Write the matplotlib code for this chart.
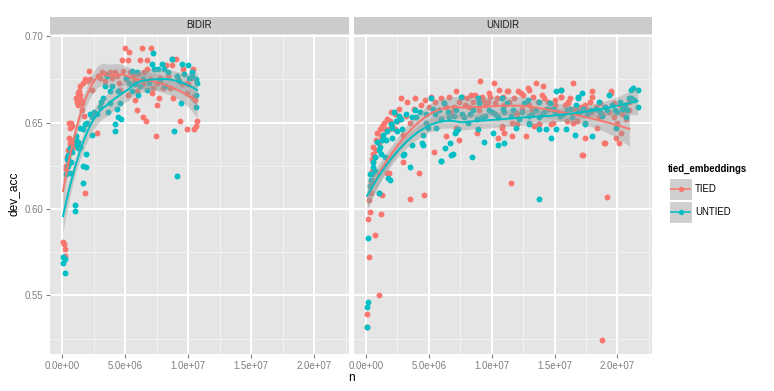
#! /usr/bin/env python3

import matplotlib.pyplot as plt
from matplotlib.lines import Line2D
from matplotlib.patches import Rectangle
import numpy as np

# ---- data (n in millions, dev_acc) ----
panels = ['BIDIR', 'UNIDIR']
groups = ['TIED', 'UNTIED']
colors = {'TIED': '#F8766D', 'UNTIED': '#00BFC4'}

bidir_tied_n = [0.08, 0.15, 0.24, 0.24, 0.3, 0.35, 0.4, 0.45, 0.5, 0.55, 0.6, 0.65, 0.7, 0.75, 0.8,
                0.85, 0.9, 0.95, 0.55, 0.65, 0.7, 0.8, 1.1, 1.2, 1.3, 1.25, 1.35, 1.4, 1.45, 1.5, 1.6,
                1.6, 1.7, 1.75, 1.8, 1.85, 2.05, 2.15, 2.2, 2.4, 2.8, 2.85, 3.2, 3.5, 3.8, 4.2, 4.5,
                4.6, 4.75, 4.85, 5.0, 5.1, 5.25, 5.25, 5.3, 5.4, 5.8, 5.8, 5.95, 5.95, 6.2, 6.35, 6.45,
                6.45, 6.5, 6.65, 6.75, 6.75, 7.05, 7.15, 7.2, 7.45, 7.55, 7.55, 7.7, 8.0, 8.25, 8.6,
                8.7, 8.75, 8.8, 9.05, 9.35, 9.5, 9.6, 9.9, 9.9, 9.9, 10.4, 10.4, 10.5, 10.55, 10.65,
                10.7, 3.0, 3.4, 4.0, 4.4, 5.6, 6.0, 7.0, 7.8, 8.4, 9.2, 10.0, 10.2]
bidir_tied_acc = [0.581, 0.580, 0.577, 0.573, 0.625, 0.623, 0.630, 0.628, 0.634, 0.641, 0.636, 0.638,
                  0.640, 0.637, 0.639, 0.636, 0.638, 0.640, 0.650, 0.647, 0.650, 0.648, 0.664, 0.662,
                  0.660, 0.667, 0.668, 0.666, 0.671, 0.663, 0.657, 0.661, 0.673, 0.654, 0.609, 0.675,
                  0.674, 0.680, 0.675, 0.669, 0.644, 0.677, 0.679, 0.678, 0.679, 0.679, 0.673, 0.669,
                  0.686, 0.680, 0.693, 0.675, 0.666, 0.686, 0.691, 0.679, 0.674, 0.663, 0.668, 0.657,
                  0.686, 0.693, 0.672, 0.653, 0.679, 0.651, 0.681, 0.686, 0.693, 0.667, 0.670, 0.642,
                  0.673, 0.660, 0.664, 0.670, 0.683, 0.670, 0.687, 0.683, 0.664, 0.687, 0.651, 0.672,
                  0.681, 0.673, 0.667, 0.646, 0.681, 0.665, 0.646, 0.663, 0.648, 0.651, 0.676, 0.674,
                  0.676, 0.677, 0.677, 0.678, 0.675, 0.676, 0.677, 0.675, 0.672, 0.676]

bidir_untied_n = [0.08, 0.08, 0.24, 0.24, 0.3, 0.4, 0.5, 0.65, 0.65, 0.7, 1.0, 1.0, 1.1, 1.15, 1.2,
                  1.25, 1.3, 1.4, 1.45, 1.65, 1.65, 1.65, 1.8, 1.9, 1.9, 2.0, 2.2, 2.4, 2.4, 2.55, 2.8,
                  3.0, 3.1, 3.25, 3.4, 3.55, 3.65, 3.8, 3.8, 3.95, 4.2, 4.2, 4.35, 4.45, 4.45, 4.6, 4.7,
                  5.1, 5.55, 5.55, 5.95, 6.05, 6.2, 6.75, 6.9, 7.15, 7.2, 7.3, 7.6, 7.95, 8.1, 8.4, 8.7,
                  8.9, 9.1, 9.1, 9.45, 9.5, 9.7, 10.0, 10.1, 10.3, 10.3, 10.6, 10.65, 10.65, 10.7, 5.3,
                  5.8, 6.4, 7.8, 8.2, 9.3, 0.45, 0.55, 0.8]
bidir_untied_acc = [0.572, 0.569, 0.571, 0.563, 0.620, 0.629, 0.631, 0.621, 0.635, 0.627, 0.602, 0.599,
                    0.642, 0.640, 0.637, 0.635, 0.639, 0.636, 0.647, 0.646, 0.625, 0.615, 0.649, 0.632,
                    0.624, 0.650, 0.655, 0.653, 0.643, 0.656, 0.655, 0.659, 0.662, 0.664, 0.671, 0.677,
                    0.656, 0.668, 0.661, 0.671, 0.649, 0.645, 0.658, 0.668, 0.653, 0.661, 0.652, 0.676,
                    0.680, 0.668, 0.679, 0.666, 0.671, 0.669, 0.673, 0.684, 0.690, 0.681, 0.681, 0.684,
                    0.681, 0.679, 0.687, 0.645, 0.677, 0.619, 0.661, 0.684, 0.678, 0.683, 0.676, 0.679,
                    0.677, 0.675, 0.666, 0.659, 0.673, 0.673, 0.672, 0.675, 0.674, 0.671, 0.674, 0.625,
                    0.628, 0.633]

unidir_tied_n = [0.1, 0.1, 0.15, 0.25, 0.25, 0.3, 0.4, 0.7, 1.0, 1.0, 1.2, 1.25, 3.5, 4.6, 19.15, 18.75,
                 11.5, 0.4, 0.5, 0.55, 0.55, 0.6, 0.7, 0.8, 0.9, 1.1, 1.2, 1.3, 1.5, 1.65, 1.65, 1.8,
                 1.8, 2.0, 2.1, 2.3, 2.5, 2.8, 2.6, 2.95, 2.95, 3.2, 3.5, 3.8, 4.2, 4.4, 5.0, 5.4, 5.8,
                 6.2, 6.35, 6.6, 7.0, 7.2, 7.2, 7.4, 7.6, 8.0, 8.35, 8.65, 8.8, 8.9, 9.05, 9.2, 9.5, 9.9,
                 10.15, 10.25, 10.5, 10.55, 10.8, 10.8, 11.0, 11.2, 11.3, 11.6, 11.65, 11.85, 12.0, 12.1,
                 12.4, 12.5, 12.7, 12.85, 12.95, 13.2, 13.4, 13.5, 13.75, 13.8, 14.0, 14.05, 14.3, 14.75,
                 14.85, 15.0, 15.5, 15.5, 15.55, 16.0, 16.05, 16.05, 16.45, 16.45, 16.8, 17.1, 17.2, 17.3,
                 17.45, 17.6, 18.0, 18.0, 18.35, 18.5, 18.6, 18.9, 19.0, 19.45, 19.5, 19.75, 19.85, 19.9,
                 20.0, 20.15, 20.3, 20.5, 20.9, 20.95, 5.5, 6.8, 8.2, 9.0, 9.7, 11.0, 12.0, 13.0, 14.5,
                 15.2, 16.5, 17.8, 19.0, 20.2,
                 3.3, 3.9, 4.7, 5.2, 6.0, 6.4, 7.4, 7.9, 8.5, 9.3, 9.8, 10.4, 10.9, 11.4, 11.8, 12.3,
                 12.8, 13.3, 13.7, 14.2, 14.6, 15.0, 15.8, 16.2, 16.9, 17.4, 17.9, 18.3, 18.8, 19.3,
                 19.7, 20.4, 20.7, 1.0, 1.4, 1.9, 2.3, 2.7, 0.45, 0.8]
unidir_tied_acc = [0.539, 0.532, 0.594, 0.572, 0.605, 0.598, 0.609, 0.585, 0.550, 0.609, 0.597, 0.608,
                   0.606, 0.608, 0.607, 0.524, 0.615, 0.616, 0.622, 0.636, 0.627, 0.632, 0.630, 0.640,
                   0.644, 0.646, 0.642, 0.648, 0.646, 0.652, 0.621, 0.621, 0.646, 0.656, 0.648, 0.646,
                   0.651, 0.664, 0.658, 0.643, 0.627, 0.654, 0.650, 0.658, 0.621, 0.660, 0.659, 0.633,
                   0.657, 0.661, 0.642, 0.665, 0.659, 0.668, 0.647, 0.640, 0.665, 0.664, 0.666, 0.666,
                   0.644, 0.664, 0.674, 0.665, 0.660, 0.665, 0.673, 0.661, 0.641, 0.669, 0.648, 0.647,
                   0.644, 0.668, 0.668, 0.642, 0.650, 0.656, 0.649, 0.668, 0.658, 0.666, 0.642, 0.670,
                   0.669, 0.657, 0.648, 0.673, 0.649, 0.649, 0.666, 0.671, 0.658, 0.649, 0.650, 0.660,
                   0.669, 0.665, 0.665, 0.651, 0.662, 0.661, 0.673, 0.650, 0.651, 0.659, 0.631, 0.631,
                   0.641, 0.657, 0.665, 0.668, 0.647, 0.653, 0.661, 0.638, 0.638, 0.667, 0.668, 0.661,
                   0.641, 0.647, 0.650, 0.638, 0.644, 0.658, 0.662, 0.657, 0.662, 0.656, 0.659, 0.657,
                   0.662, 0.660, 0.655, 0.660, 0.662, 0.656, 0.658, 0.662, 0.659, 0.660,
                   0.662, 0.664, 0.663, 0.665, 0.664, 0.659, 0.662, 0.660, 0.662, 0.663, 0.667, 0.664,
                   0.665, 0.662, 0.664, 0.667, 0.661, 0.665, 0.662, 0.664, 0.658, 0.663, 0.660, 0.664,
                   0.657, 0.660, 0.656, 0.659, 0.655, 0.656, 0.653, 0.655, 0.652, 0.638, 0.650, 0.651,
                   0.655, 0.652, 0.629, 0.634]

unidir_untied_n = [0.1, 0.1, 0.15, 0.15, 1.0, 13.75, 0.3, 0.4, 0.5, 0.6, 0.7, 0.9, 1.1, 1.2, 1.35, 1.5,
                   1.6, 1.75, 1.9, 2.05, 2.1, 2.5, 2.9, 2.95, 2.2, 2.6, 3.0, 3.5, 3.7, 3.7, 4.0, 4.45,
                   4.5, 4.5, 4.75, 4.9, 5.15, 5.6, 5.95, 6.0, 6.25, 6.65, 6.8, 6.9, 7.05, 7.15, 7.3, 7.55,
                   8.1, 8.4, 8.9, 8.9, 9.35, 10.1, 10.5, 10.8, 11.0, 11.9, 12.95, 13.0, 13.75, 13.8, 14.3,
                   14.75, 15.1, 15.15, 15.5, 15.9, 16.65, 16.85, 16.85, 17.15, 17.4, 17.45, 17.95, 19.35,
                   19.9, 20.65, 20.9, 21.05, 21.1, 21.2, 21.6, 21.6, 5.5, 6.0, 6.5, 7.0, 7.8, 8.3, 8.8,
                   9.5, 10.0, 10.5, 11.2, 11.5, 12.2, 12.6, 13.2, 13.8, 14.2, 14.6, 15.4, 16.0, 16.4, 17.0,
                   17.6, 18.3, 18.8, 19.2, 19.6, 20.0, 20.4, 20.8, 6.2, 9.0, 10.9, 12.9, 14.9, 16.7, 18.5,
                   20.2,
                   0.35, 0.55, 0.75, 1.0, 1.3, 1.7, 2.0, 2.4, 2.8, 3.2, 3.9, 4.3, 4.8, 5.3, 5.8, 6.6,
                   7.2, 7.6, 8.5, 9.2, 9.8, 10.3, 11.0, 11.7, 12.4, 13.0, 13.5, 14.0, 14.4, 15.0, 15.7,
                   16.2, 16.9, 17.3, 17.9, 18.6, 19.0, 19.8, 20.6, 21.3]
unidir_untied_acc = [0.532, 0.543, 0.546, 0.583, 0.609, 0.606, 0.613, 0.617, 0.620, 0.624, 0.622, 0.639,
                     0.636, 0.632, 0.643, 0.630, 0.640, 0.618, 0.617, 0.641, 0.647, 0.645, 0.646, 0.631,
                     0.656, 0.654, 0.632, 0.624, 0.653, 0.637, 0.653, 0.638, 0.643, 0.637, 0.650, 0.647,
                     0.664, 0.647, 0.628, 0.628, 0.635, 0.638, 0.631, 0.632, 0.644, 0.645, 0.646, 0.665,
                     0.650, 0.630, 0.646, 0.664, 0.639, 0.644, 0.637, 0.664, 0.638, 0.647, 0.650, 0.649,
                     0.662, 0.646, 0.646, 0.641, 0.668, 0.646, 0.669, 0.646, 0.643, 0.665, 0.664, 0.667,
                     0.649, 0.650, 0.642, 0.666, 0.647, 0.653, 0.664, 0.664, 0.669, 0.670, 0.669, 0.659,
                     0.655, 0.652, 0.656, 0.654, 0.653, 0.655, 0.652, 0.654, 0.656, 0.653, 0.661, 0.654,
                     0.652, 0.661, 0.655, 0.653, 0.656, 0.661, 0.654, 0.657, 0.653, 0.656, 0.655, 0.658,
                     0.654, 0.657, 0.660, 0.656, 0.658, 0.657, 0.661, 0.661, 0.658, 0.663, 0.658, 0.660,
                     0.662, 0.662,
                     0.620, 0.627, 0.630, 0.634, 0.640, 0.645, 0.649, 0.651, 0.652, 0.655, 0.657, 0.656,
                     0.655, 0.658, 0.657, 0.653, 0.657, 0.655, 0.657, 0.653, 0.657, 0.655, 0.656, 0.657,
                     0.656, 0.654, 0.657, 0.655, 0.658, 0.656, 0.655, 0.658, 0.656, 0.658, 0.657, 0.656,
                     0.659, 0.657, 0.660, 0.663]

data = {
    ('BIDIR', 'TIED'): (bidir_tied_n, bidir_tied_acc),
    ('BIDIR', 'UNTIED'): (bidir_untied_n, bidir_untied_acc),
    ('UNIDIR', 'TIED'): (unidir_tied_n, unidir_tied_acc),
    ('UNIDIR', 'UNTIED'): (unidir_untied_n, unidir_untied_acc),
}

xticks = [0, 5e6, 1e7, 1.5e7, 2e7]
xticklabels = ['0.0e+00', '5.0e+06', '1.0e+07', '1.5e+07', '2.0e+07']
yticks = [0.55, 0.60, 0.65, 0.70]
yticklabels = ['0.55', '0.60', '0.65', '0.70']


def loess(x, y, span=0.75, ngrid=80):
    # local quadratic fit with tricube weights, like R's loess default
    n = len(x)
    q = int(np.floor(n * span))

    def hat_row(x0):
        d = np.abs(x - x0)
        h = np.sort(d)[q - 1]
        w = np.clip(1 - (d / h) ** 3, 0, None) ** 3
        X = np.column_stack([np.ones(n), x - x0, (x - x0) ** 2])
        XtW = X.T * w
        return np.linalg.solve(XtW @ X, XtW)[0]

    L = np.array([hat_row(xi) for xi in x])
    resid = y - L @ y
    M = np.eye(n) - L
    delta1 = np.trace(M.T @ M)
    sigma = np.sqrt(np.sum(resid ** 2) / delta1)
    xs = np.linspace(x.min(), x.max(), ngrid)
    G = np.array([hat_row(x0) for x0 in xs])
    fit = G @ y
    se = sigma * np.sqrt(np.sum(G ** 2, axis=1))
    return xs, fit, se


def mkplot():
    W, H = 774, 391
    fig = plt.figure(figsize=(W / 100, H / 100), dpi=100)
    plt.rcParams['font.family'] = ['Liberation Sans', 'DejaVu Sans']

    def fx(px):
        return px / W

    def fy(py):
        return 1 - py / H

    boxes = {'BIDIR': (50, 349), 'UNIDIR': (354, 652)}
    top, bottom = 34, 354
    for p in panels:
        l, r = boxes[p]
        ax = fig.add_axes([fx(l), fy(bottom), (r - l) / W, (bottom - top) / H])
        ax.set_facecolor('#E5E5E5')
        for s in ax.spines.values():
            s.set_visible(False)
        ax.set_xlim(-0.95e6, 22.75e6)
        ax.set_ylim(0.5161, 0.7012)
        ax.set_xticks(xticks)
        ax.set_yticks(yticks)
        ax.set_xticks([2.5e6, 7.5e6, 1.25e7, 1.75e7, 2.25e7], minor=True)
        ax.set_yticks([0.525, 0.575, 0.625, 0.675], minor=True)
        ax.grid(which='major', color='white', lw=1.4)
        ax.grid(which='minor', color='#F2F2F2', lw=0.7)
        ax.set_axisbelow(True)
        ax.tick_params(which='minor', length=0)
        ax.tick_params(which='major', length=3, width=0.8, color='#7F7F7F',
                       labelcolor='#7F7F7F', labelsize=6.9, pad=2)
        ax.set_xticklabels(xticklabels)
        if p == 'BIDIR':
            ax.set_yticklabels(yticklabels)
        else:
            ax.tick_params(axis='y', length=0, labelleft=False)

        # strip
        sax = fig.add_axes([fx(l), fy(top), (r - l) / W, 17 / H])
        sax.set_facecolor('#CCCCCC')
        sax.set_xticks([])
        sax.set_yticks([])
        for s in sax.spines.values():
            s.set_visible(False)
        sax.text(0.5, 0.5, p, ha='center', va='center', fontsize=6.9, color='#1A1A1A')

        # points
        for g in groups:
            n, acc = data[(p, g)]
            ax.scatter(np.array(n) * 1e6, acc, s=18, color=colors[g], lw=0, zorder=3)

        # smoothers
        for g in groups:
            n, acc = data[(p, g)]
            xs, fit, se = loess(np.array(n), np.array(acc))
            ax.fill_between(xs * 1e6, fit - 1.97 * se, fit + 1.97 * se, color='#999999',
                            alpha=0.4, lw=0, zorder=4)
            ax.plot(xs * 1e6, fit, color=colors[g], lw=1.4, zorder=5)

    fig.text(fx(14), fy(194), 'dev_acc', rotation=90, ha='center', va='center', fontsize=8.6)
    fig.text(fx(351), fy(378), 'n', ha='center', va='center', fontsize=8.6)

    # legend
    fig.text(fx(668), fy(169), 'tied_embeddings', ha='left', va='center', fontsize=6.9,
             fontweight='bold')
    for i, g in enumerate(groups):
        y0 = 178 + i * 23
        fig.patches.append(Rectangle((fx(669), fy(y0 + 22)), 23 / W, 22 / H, transform=fig.transFigure,
                                     facecolor='#CFCFCF', edgecolor='white', lw=0.8))
        fig.lines.append(Line2D([fx(671), fx(690)], [fy(y0 + 11)] * 2, transform=fig.transFigure,
                                color=colors[g], lw=1.4, alpha=0.8))
        fig.lines.append(Line2D([fx(680.5)], [fy(y0 + 11)], transform=fig.transFigure,
                                marker='o', ms=3.8, mew=0, color=colors[g]))
        fig.text(fx(695), fy(y0 + 11), g, ha='left', va='center', fontsize=6.9)

    plt.savefig('out.png', dpi=100)


if __name__ == "__main__":
    mkplot()
